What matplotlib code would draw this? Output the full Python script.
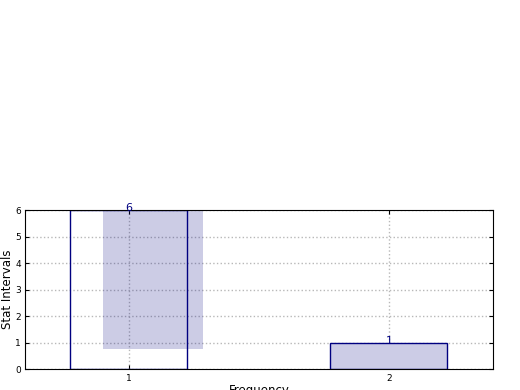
import matplotlib
matplotlib.use("Agg")
import matplotlib.pyplot as plt

# values
categories = [1, 2]
counts = [6, 1]
# stray shaded block behind the first bar
shade_x = [0.9]
shade_width = [0.385]
shade_bottom = [0.75]
shade_height = [5.3]

fig = plt.figure(figsize=(5.2, 3.9), dpi=100)
ax = fig.add_axes([0.048, 0.0538, 0.9, 0.4077])

# first bar: outline only, second bar filled
ax.bar(categories[:1], counts[:1], width=0.45, facecolor='none',
       edgecolor='navy', linewidth=1)
ax.bar(shade_x, shade_height, width=shade_width, bottom=shade_bottom,
       align='edge', color='navy', alpha=0.2, linewidth=0)
ax.bar(categories[1:], counts[1:], width=0.45, facecolor=(0.8, 0.8, 0.9),
       edgecolor='navy', linewidth=1)

for x, c in zip(categories, counts):
    ax.annotate(str(c), (x, c), xytext=(0, -2.5), textcoords='offset points',
                ha='center', va='bottom', color='navy', fontsize=8)

ax.set_xlim(0.6, 2.4)
ax.set_ylim(0, 6)
ax.set_xticks(categories)
ax.set_yticks(range(0, 7))
ax.tick_params(direction='in', top=True, right=True, labelsize=6.5, length=3)
ax.tick_params(axis='y', pad=3)
ax.grid(True, linestyle=':', color='#b8b8b8', linewidth=1)
ax.set_axisbelow(True)

ax.set_ylabel('Stat Intervals', fontsize=8.5)
ax.set_xlabel('Frequency', fontsize=8.5, va='top')
ax.yaxis.set_label_coords(-0.024, 0.5)
ax.xaxis.set_label_coords(0.5, -0.094)

fig.savefig('out.png', dpi=100, facecolor='white')
